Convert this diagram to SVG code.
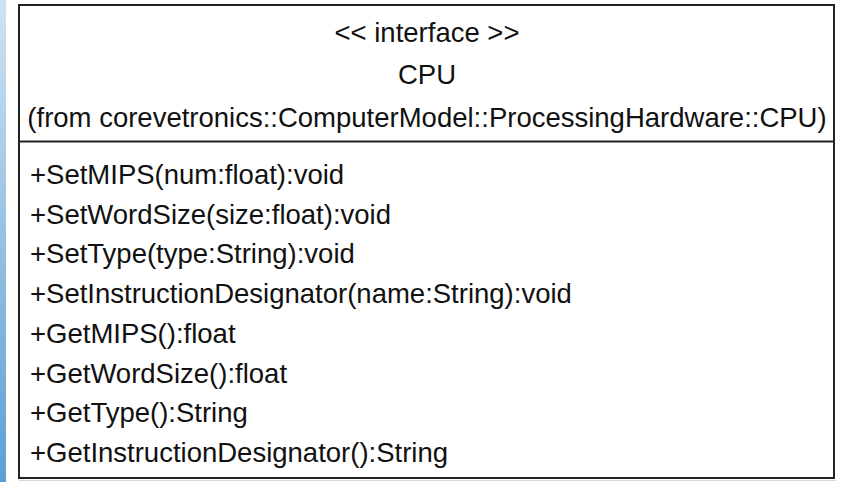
<svg xmlns="http://www.w3.org/2000/svg" width="844" height="482" viewBox="0 0 844 482">
<defs>
<linearGradient id="strip" x1="0" y1="0" x2="0" y2="1">
<stop offset="0" stop-color="#cfe2f1"/>
<stop offset="1" stop-color="#5d9fd4"/>
</linearGradient>
<style>
.t{font-family:"Liberation Sans",Arial,sans-serif;font-size:27.5px;fill:#111}
.c{text-anchor:middle}
.box{fill:#fff;stroke:#222;stroke-width:2}
.sep{stroke:#222;stroke-width:2}
</style>
</defs>
<rect x="0" y="0" width="844" height="482" fill="#fff"/>
<rect x="0" y="0" width="6" height="482" fill="url(#strip)"/>
<line x1="19" y1="480.5" x2="836" y2="480.5" stroke="#d8d8d8" stroke-width="1"/>
<g id="cpu">
<rect class="box" x="19" y="5" width="815" height="473"/>
<line class="sep" x1="19" y1="141.5" x2="834" y2="141.5"/>
<text class="t c" x="427" y="41.5">&lt;&lt; interface &gt;&gt;</text>
<text class="t c" x="427" y="84">CPU</text>
<text class="t c" x="427" y="127">(from corevetronics::ComputerModel::ProcessingHardware::CPU)</text>
<text class="t" x="30" y="184">+SetMIPS(num:float):void</text>
<text class="t" x="30" y="223.7">+SetWordSize(size:float):void</text>
<text class="t" x="30" y="263.4">+SetType(type:String):void</text>
<text class="t" x="30" y="303.1">+SetInstructionDesignator(name:String):void</text>
<text class="t" x="30" y="342.8">+GetMIPS():float</text>
<text class="t" x="30" y="382.5">+GetWordSize():float</text>
<text class="t" x="30" y="422.2">+GetType():String</text>
<text class="t" x="30" y="461.9">+GetInstructionDesignator():String</text>
</g>
</svg>
